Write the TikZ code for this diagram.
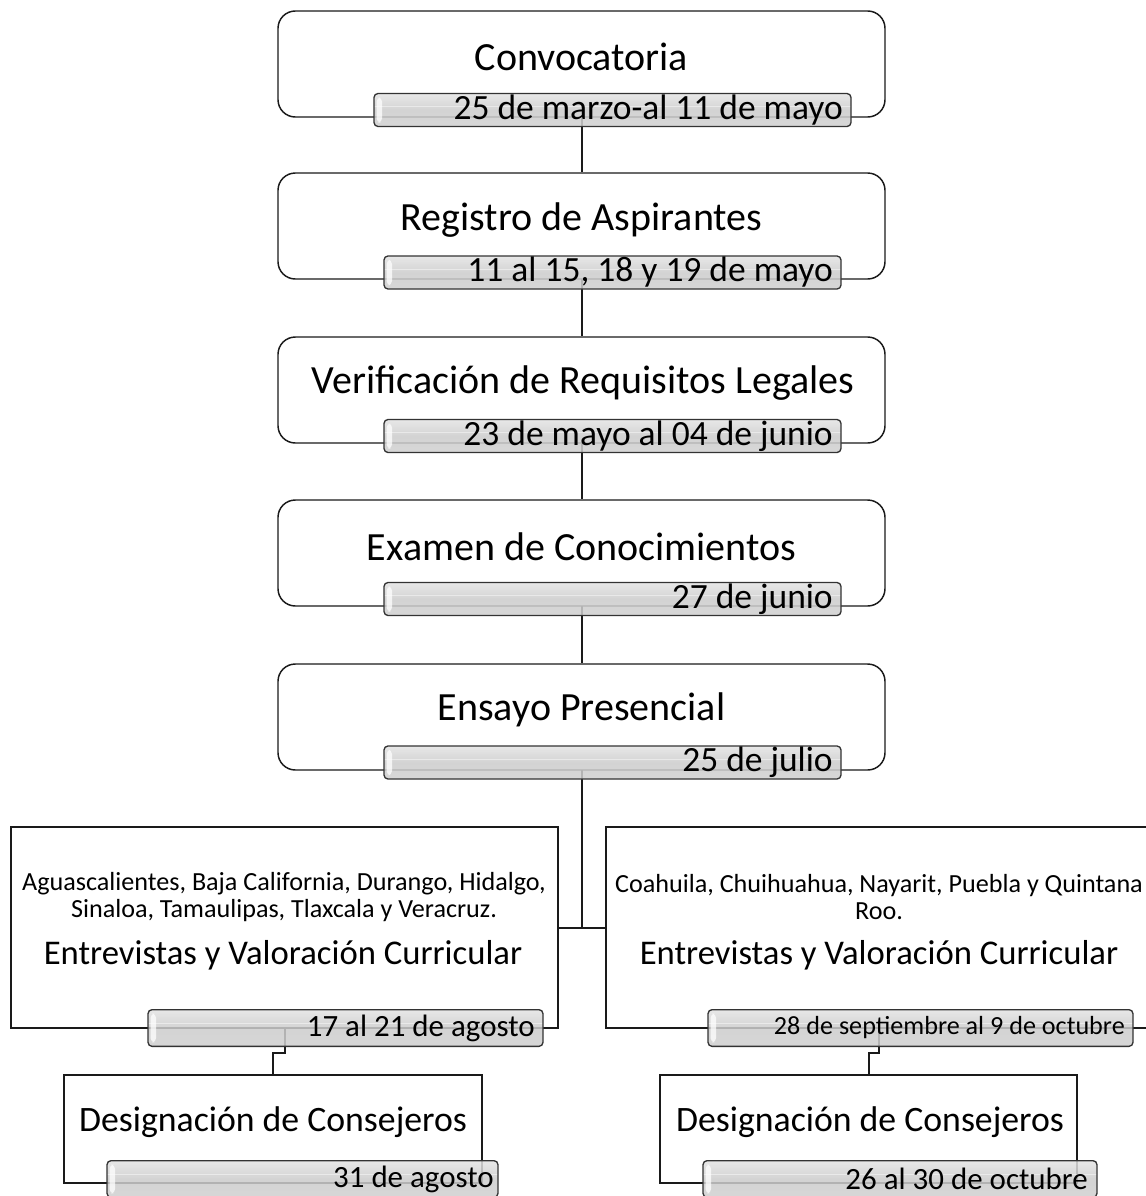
\documentclass[tikz,border=0pt]{standalone}
\usepackage{fontspec}
\setmainfont{Carlito}
\usetikzlibrary{backgrounds}
\definecolor{bartop}{HTML}{E4E4E4}
\definecolor{barmid}{HTML}{CCCCCC}
\definecolor{barbot}{HTML}{D0D0D0}
\definecolor{edge}{HTML}{1A1A1A}
\begin{document}
\begin{tikzpicture}[x=0.75pt,y=-0.75pt,
  rbox/.style={draw=edge, line width=1.1pt, rounded corners=13pt, fill=white,
    minimum width=#1*0.75pt, minimum height=79.5pt, inner sep=0pt},
  sbox/.style={draw=edge, line width=1.1pt, fill=white, inner sep=0pt,
    minimum width=#1*0.75pt},
  bar/.style={draw=black!80, line width=1pt, rounded corners=3pt,
    top color=bartop, bottom color=barbot, middle color=barmid,
    fill opacity=0.85, inner sep=0pt,
    minimum width=#1*0.75pt, minimum height=24.75pt,
    path picture={
      \fill[white,opacity=0.75] ([xshift=2pt,yshift=-3pt]path picture bounding box.north west)
        rectangle ([xshift=6pt,yshift=3pt]path picture bounding box.south west);
      \draw[white,opacity=0.45,line width=0.6pt]
        ([yshift=-0.35cm]path picture bounding box.north west) -- ([yshift=-0.35cm]path picture bounding box.north east);}},
  lbar/.style={bar=#1, minimum height=27.5pt},
  ttl/.style={font=\fontsize{30}{35}\selectfont, inner sep=0pt},
  dt/.style={font=\fontsize{26.6}{30}\selectfont, inner sep=0pt, anchor=east},
  dts/.style={font=\fontsize{23.2}{27}\selectfont, inner sep=0pt, anchor=east},
  dtr/.style={font=\fontsize{19.6}{23}\selectfont, inner sep=0pt, anchor=east},
  st/.style={font=\fontsize{19.6}{20.25}\selectfont, align=center, inner sep=0pt},
  ent/.style={font=\fontsize{26}{30}\selectfont, inner sep=0pt},
  des/.style={font=\fontsize{26.8}{30}\selectfont, inner sep=0pt},
  conn/.style={draw=edge, line width=1.5pt}
]
\useasboundingbox (0,0) rectangle (1146,1196);

% main chain
\node[rbox=607] (b1) at (581.5,64) {};
\node[ttl] (t1) at (581.5,57) {Convocatoria};
\node[bar=477] (d1) at (612.5,110) {};
\node[dt] (d1t) at (843,110) {25 de marzo-al 11 de mayo};

\node[rbox=607] (b2) at (581.5,226) {};
\node[ttl] (t2) at (581.5,220) {Registro de Aspirantes};
\node[bar=457] (d2) at (612.5,272.5) {};
\node[dt] (d2t) at (833,272.5) {11 al 15, 18 y 19 de mayo};

\node[rbox=607] (b3) at (581.5,390) {};
\node[ttl] (t3) at (583,383) {Verificación de Requisitos Legales};
\node[bar=457] (d3) at (612.5,436) {};
\node[dt] (d3t) at (833,436) {23 de mayo al 04 de junio};

\node[rbox=607] (b4) at (581.5,553) {};
\node[ttl] (t4) at (581.5,547) {Examen de Conocimientos};
\node[bar=457] (d4) at (612.5,599) {};
\node[dt] (d4t) at (833,599) {27 de junio};

\node[rbox=607] (b5) at (581.5,717) {};
\node[ttl] (t5) at (581.5,710) {Ensayo Presencial};
\node[bar=457] (d5) at (612.5,762.5) {};
\node[dt] (d5t) at (833,762.5) {25 de julio};

% left branch
\node[sbox=547, minimum height=150.75pt] (bL) at (284.5,927.5) {};
\node[st] (sLt) at (284,897.5) {Aguascalientes, Baja California, Durango, Hidalgo,\\Sinaloa, Tamaulipas, Tlaxcala y Veracruz.};
\node[ent] (eL) at (283,955) {Entrevistas y Valoración Curricular};
\node[lbar=395] (dL) at (345.5,1028) {};
\node[dts] (dLt) at (535,1028) {17 al 21 de agosto};

\node[sbox=418, minimum height=81pt] (sL) at (273,1129) {};
\node[des] (sLtt) at (273,1122) {Designación de Consejeros};
\node[lbar=391] (dsL) at (302.5,1179) {};
\node[dts] (dsLt) at (494,1179) {31 de agosto};

% right branch
\node[sbox=546, minimum height=150.75pt] (bR) at (879,927.5) {};
\node[st] (sRt) at (879,897.5) {Coahuila, Chuihuahua, Nayarit, Puebla y Quintana\\Roo.};
\node[ent] (eR) at (879,955) {Entrevistas y Valoración Curricular};
\node[lbar=425] (dR) at (920.5,1028) {};
\node[dtr] (dRt) at (1125,1028) {28 de septiembre al 9 de octubre};

\node[sbox=417, minimum height=81pt] (sR) at (868.5,1129) {};
\node[des] (sRtt) at (870,1122) {Designación de Consejeros};
\node[lbar=394] (dsR) at (900,1179) {};
\node[dts] (dsRt) at (1088,1179) {26 al 30 de octubre};

\begin{scope}[on background layer]
  \draw[conn] (b1.center) -- (b2.north);
  \draw[conn] (b2.center) -- (b3.north);
  \draw[conn] (b3.center) -- (b4.north);
  \draw[conn] (b4.center) -- (b5.north);
  \draw[conn] (b5.center) -- (b5.center |- bL.east);
  \draw[conn] (bL.east) -- (bR.west);
  \draw[conn] (bL.center) -- (bL.center |- dL.south) -- ++(0,6) -| (sL.north);
  \draw[conn] (bR.center) -- (bR.center |- dR.south) -- ++(0,6) -| (sR.north);
\end{scope}
\end{tikzpicture}
\end{document}
